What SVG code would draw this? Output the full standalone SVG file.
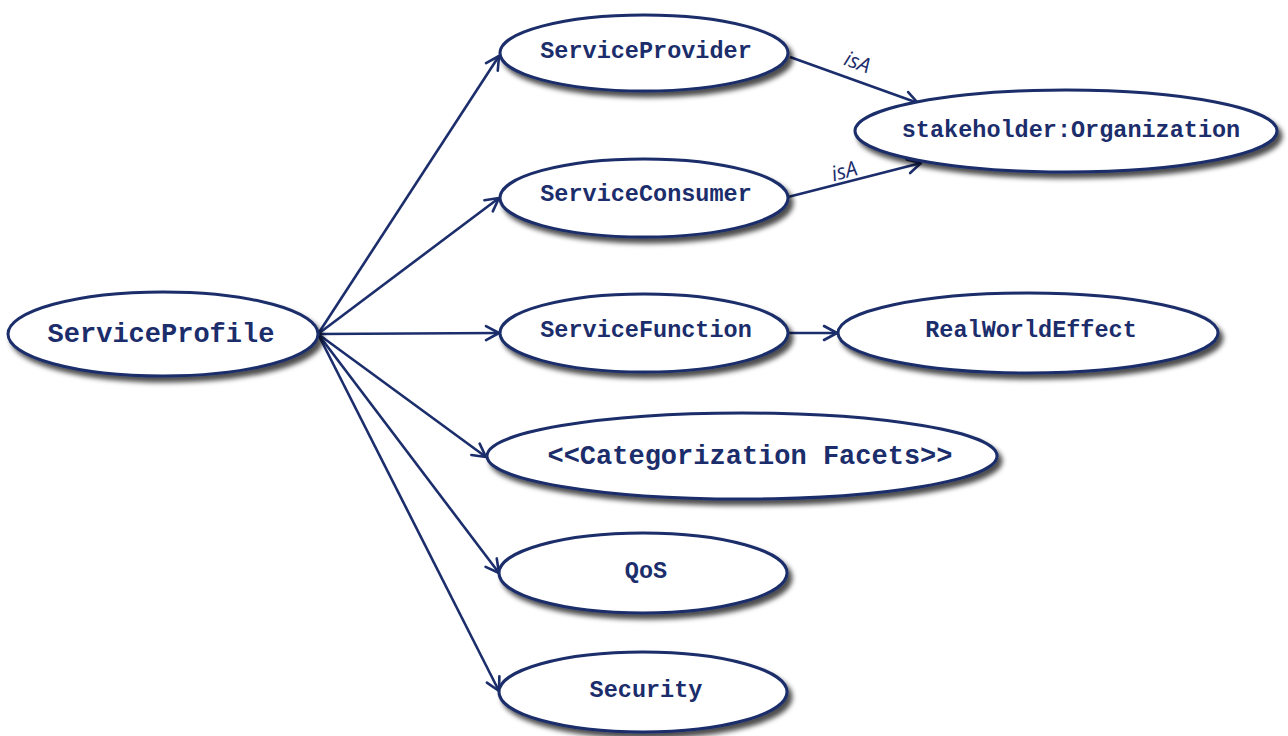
<svg xmlns="http://www.w3.org/2000/svg" width="1288" height="736" viewBox="0 0 1288 736">
  <style>
    .node ellipse { fill: #ffffff; stroke: #1b2d6b; stroke-width: 3; filter: url(#shadow); }
    .node text { font-family: "Liberation Mono", "Courier New", monospace; font-weight: bold; fill: #1b2d6b; text-anchor: middle; }
    .big { font-size: 27px; }
    .small { font-size: 23.5px; }
    #connectors line { stroke: #1b2d6b; stroke-width: 2.6; fill: none; marker-end: url(#arrow); }
    .rel { font-family: "Open Sans", "Liberation Sans", sans-serif; font-style: italic; font-size: 21px; fill: #1b2d6b; text-anchor: middle; }
  </style>
  <defs>
    <filter id="shadow" x="-10%" y="-20%" width="125%" height="150%">
      <feDropShadow dx="4" dy="5" stdDeviation="2.5" flood-color="#000000" flood-opacity="0.7"/>
    </filter>
    <marker id="arrow" markerUnits="userSpaceOnUse" markerWidth="20" markerHeight="20" viewBox="0 0 20 20" refX="17" refY="10" orient="auto">
      <path d="M4,3 L17,10 L4,17" fill="none" stroke="#1b2d6b" stroke-width="2.6" stroke-linecap="round" stroke-linejoin="round"/>
    </marker>
  </defs>
  <rect width="1288" height="736" fill="#ffffff"/>

  <g id="connectors">
    <line x1="318" y1="334" x2="499" y2="56"/>
    <line x1="318" y1="334" x2="499" y2="198"/>
    <line x1="318" y1="334" x2="499" y2="333"/>
    <line x1="318" y1="334" x2="486" y2="457"/>
    <line x1="318" y1="334" x2="499" y2="573"/>
    <line x1="318" y1="334" x2="499" y2="691"/>
    <line x1="790" y1="57" x2="918" y2="103"/>
    <line x1="788" y1="197" x2="921" y2="163"/>
    <line x1="788" y1="333" x2="837" y2="333"/>
    <text class="rel" transform="translate(855,69) rotate(20)">isA</text>
    <text class="rel" transform="translate(846,178) rotate(-15)">isA</text>
  </g>

  <g id="node-serviceprofile" class="node">
    <ellipse cx="163" cy="334" rx="155" ry="42"/>
    <text class="big" x="161" y="342">ServiceProfile</text>
  </g>
  <g id="node-serviceprovider" class="node">
    <ellipse cx="644" cy="53" rx="144" ry="38"/>
    <text class="small" x="646" y="58">ServiceProvider</text>
  </g>
  <g id="node-serviceconsumer" class="node">
    <ellipse cx="644" cy="198" rx="144" ry="39"/>
    <text class="small" x="646" y="201">ServiceConsumer</text>
  </g>
  <g id="node-organization" class="node">
    <ellipse cx="1066" cy="131" rx="211" ry="41"/>
    <text class="small" x="1071" y="137">stakeholder:Organization</text>
  </g>
  <g id="node-servicefunction" class="node">
    <ellipse cx="644" cy="333" rx="144" ry="39"/>
    <text class="small" x="646" y="337">ServiceFunction</text>
  </g>
  <g id="node-realworldeffect" class="node">
    <ellipse cx="1028" cy="333" rx="190" ry="40"/>
    <text class="small" x="1031" y="337">RealWorldEffect</text>
  </g>
  <g id="node-categorization" class="node">
    <ellipse cx="742" cy="456" rx="255" ry="43"/>
    <text class="big" x="750" y="464">&lt;&lt;Categorization Facets&gt;&gt;</text>
  </g>
  <g id="node-qos" class="node">
    <ellipse cx="643" cy="573" rx="144" ry="40"/>
    <text class="small" x="646" y="578">QoS</text>
  </g>
  <g id="node-security" class="node">
    <ellipse cx="643" cy="692" rx="144" ry="40"/>
    <text class="small" x="646" y="697">Security</text>
  </g>
</svg>
